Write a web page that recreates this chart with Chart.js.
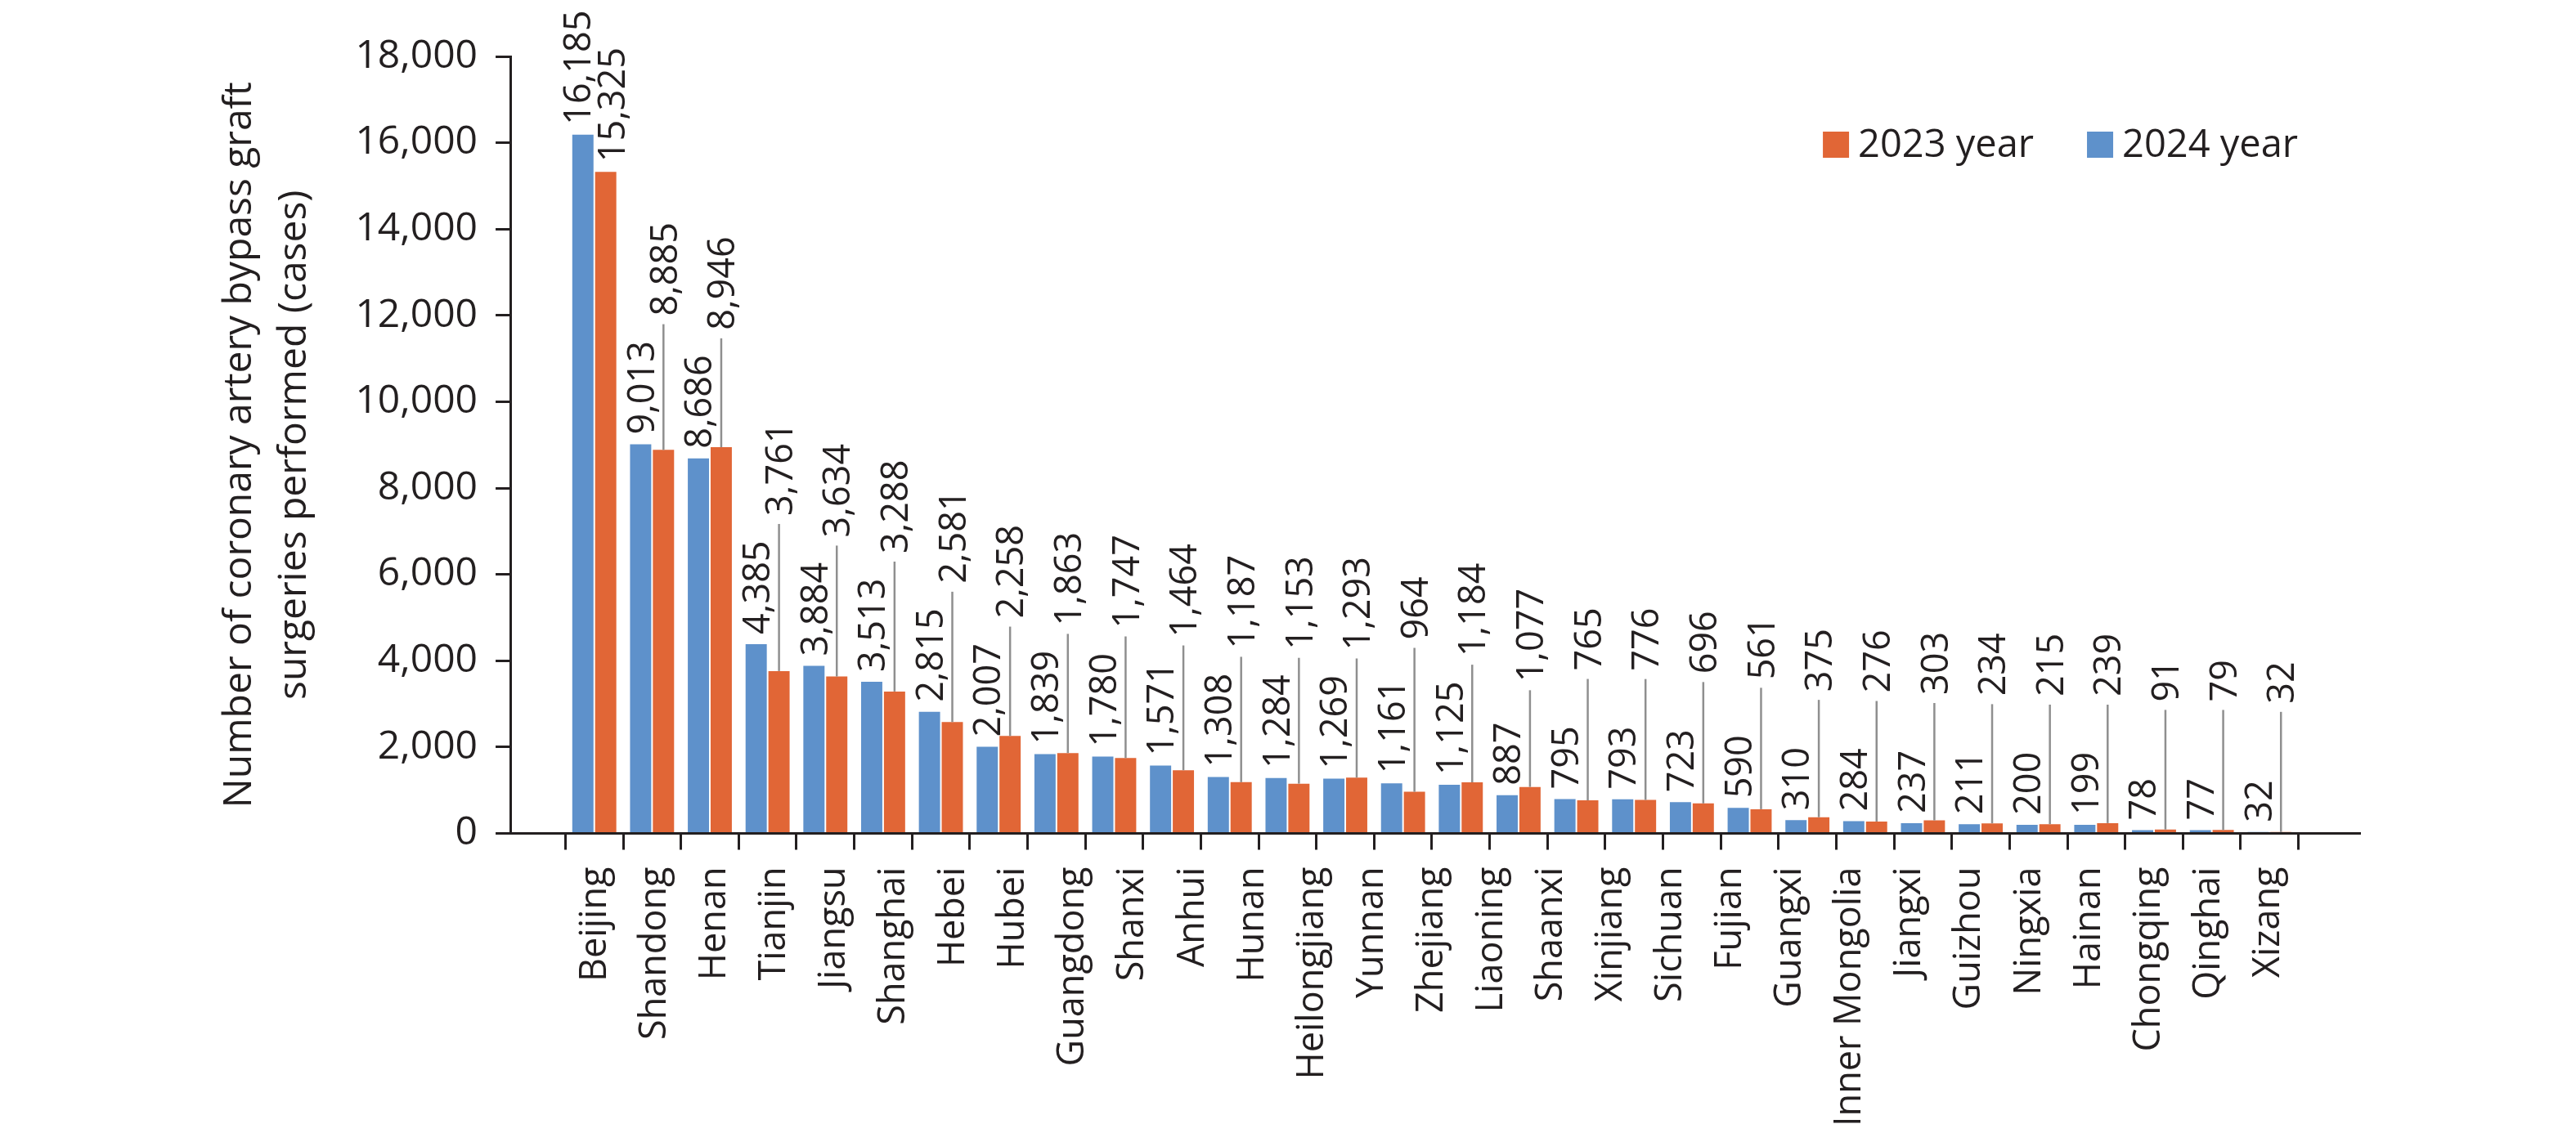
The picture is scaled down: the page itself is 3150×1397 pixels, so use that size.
<!DOCTYPE html>
<html lang="en">
<head>
  <meta charset="UTF-8" />
  <title>Coronary artery bypass graft surgeries by province</title>
  <script src="https://cdn.jsdelivr.net/npm/chart.js@4"></script>
  <style>
    html, body { margin: 0; padding: 0; background: #fff; }
    #wrap { width: 3150px; height: 1397px; }
  </style>
</head>
<body>
  <div id="wrap"><canvas id="chart" width="3150" height="1397"></canvas></div>

  <script>
    // 29 province names, spread evenly under the 30 bar groups (as in the source figure)
    const provinces = [
      'Beijing', 'Shandong', 'Henan', 'Tianjin', 'Jiangsu', 'Shanghai', 'Hebei', 'Hubei',
      'Guangdong', 'Shanxi', 'Anhui', 'Hunan', 'Heilongjiang', 'Yunnan', 'Zhejiang',
      'Liaoning', 'Shaanxi', 'Xinjiang', 'Sichuan', 'Fujian', 'Guangxi', 'Inner Mongolia',
      'Jiangxi', 'Guizhou', 'Ningxia', 'Hainan', 'Chongqing', 'Qinghai', 'Xizang'
    ];
    const values2024 = [
      16185, 9013, 8686, 4385, 3884, 3513, 2815, 2007, 1839, 1780, 1571, 1308, 1284, 1269, 1161,
      1125, 887, 795, 793, 723, 590, 310, 284, 237, 211, 200, 199, 78, 77, 32
    ];
    const values2023 = [
      15325, 8885, 8946, 3761, 3634, 3288, 2581, 2258, 1863, 1747, 1464, 1187, 1153, 1293, 964,
      1184, 1077, 765, 776, 696, 561, 375, 276, 303, 234, 215, 239, 91, 79, 32
    ];
    const yMax = 18000;
    const yStep = 2000;
    const yTitle = ['Number of coronary artery bypass graft', 'surgeries performed (cases)'];

    const INK = '#231f20';
    const BLUE = '#5e91cb';
    const ORANGE = '#e16636';
    const LEADER = '#8f8f8f';
    const FAMILY = '"Open Sans", "Noto Sans", sans-serif';

    Chart.defaults.font.family = FAMILY;
    Chart.defaults.color = INK;

    const fmt = v => v.toLocaleString('en-US');
    const barIndex = values2024.map((_, i) => i);
    // the axis line runs a little past the first and last group
    const xMin = -0.92;
    const xMax = barIndex.length - 1 + 1.02;

    // rotated value labels; 2023 labels are lifted above the 2024 ones with a leader line
    const valueLabels = {
      id: 'valueLabels',
      afterDatasetsDraw(chart) {
        const { ctx } = chart;
        const blue = chart.getDatasetMeta(0).data;
        const orange = chart.getDatasetMeta(1).data;
        const size = 45;
        const capHalf = size * 0.36;
        const gap = 12;
        const lift = 145;

        const drawUp = (text, x, mid) => {
          ctx.save();
          ctx.translate(x, mid);
          ctx.rotate(-Math.PI / 2);
          ctx.textAlign = 'center';
          ctx.textBaseline = 'alphabetic';
          ctx.fillText(text, 0, capHalf);
          ctx.restore();
        };

        ctx.save();
        ctx.font = size + 'px ' + FAMILY;
        ctx.fillStyle = INK;
        blue.forEach((bBar, i) => {
          const oBar = orange[i];
          const bText = fmt(values2024[i]);
          const oText = fmt(values2023[i]);
          const bLen = ctx.measureText(bText).width;
          const oLen = ctx.measureText(oText).width;

          const bMid = bBar.y - gap - bLen / 2;
          let oMid = Math.min(bMid - lift, oBar.y - gap - oLen / 2);
          const lifted = oMid - oLen / 2 > 0;
          let dx = 0;
          if (!lifted) {
            oMid = oBar.y - gap - oLen / 2;
            dx = 7;
          }

          drawUp(bText, bBar.x - dx, bMid);
          drawUp(oText, oBar.x + dx, oMid);

          if (lifted) {
            ctx.save();
            ctx.strokeStyle = LEADER;
            ctx.lineWidth = 2.5;
            ctx.beginPath();
            ctx.moveTo(oBar.x, oMid + oLen / 2 + 10);
            ctx.lineTo(oBar.x, oBar.y);
            ctx.stroke();
            ctx.restore();
          }
        });
        ctx.restore();
      }
    };

    // one-row legend sitting inside the top right of the plot, 2023 first
    const insideLegend = {
      id: 'insideLegend',
      afterDraw(chart) {
        const { ctx, chartArea } = chart;
        const items = Chart.defaults.plugins.legend.labels.generateLabels(chart).reverse();
        const box = 32;
        const textGap = 11;
        const itemGap = 65;
        const right = chartArea.right - 75;
        const midY = chartArea.top + 108;

        ctx.save();
        ctx.font = '47px ' + FAMILY;
        ctx.textBaseline = 'middle';
        ctx.textAlign = 'left';
        const widths = items.map(it => box + textGap + ctx.measureText(it.text).width);
        let x = right - widths.reduce((a, b) => a + b, 0) - itemGap * (items.length - 1);
        items.forEach((it, k) => {
          ctx.fillStyle = it.fillStyle;
          ctx.fillRect(x, midY - box / 2, box, box);
          ctx.fillStyle = INK;
          ctx.fillText(it.text, x + box + textGap, midY + 2);
          x += widths[k] + itemGap;
        });
        ctx.restore();
      }
    };

    const ctx = document.getElementById('chart').getContext('2d');

    const chart = new Chart(ctx, {
      type: 'bar',
      data: {
        labels: barIndex,
        datasets: [
          {
            label: '2024 year',
            data: values2024,
            backgroundColor: BLUE,
            borderWidth: 0,
            categoryPercentage: 0.79,
            barPercentage: 0.93
          },
          {
            label: '2023 year',
            data: values2023,
            backgroundColor: ORANGE,
            borderWidth: 0,
            categoryPercentage: 0.79,
            barPercentage: 0.93
          }
        ]
      },
      options: {
        responsive: false,
        animation: false,
        devicePixelRatio: 1,
        layout: { padding: { left: 250, top: 69, right: 265, bottom: 6 } },
        plugins: {
          tooltip: { enabled: false },
          legend: { display: false }
        },
        scales: {
          x: {
            type: 'linear',
            position: 'bottom',
            weight: 0,
            min: xMin,
            max: xMax,
            afterBuildTicks: s => { s.ticks = barIndex.map(v => ({ value: v })); },
            ticks: { display: false },
            grid: { drawOnChartArea: false, drawTicks: true, tickLength: 20, color: INK, lineWidth: 3 },
            border: { display: true, color: INK, width: 3 }
          },
          names: {
            type: 'linear',
            position: 'bottom',
            weight: 1,
            min: xMin,
            max: xMax,
            afterBuildTicks: s => {
              const step = (barIndex.length - 1) / (provinces.length - 1);
              s.ticks = provinces.map((_, k) => ({ value: k * step }));
            },
            ticks: {
              autoSkip: false,
              minRotation: 90,
              maxRotation: 90,
              padding: 13,
              font: { size: 45 },
              color: INK,
              callback: (v, i) => provinces[i]
            },
            grid: { display: false },
            border: { display: false }
          },
          y: {
            min: 0,
            max: yMax,
            ticks: {
              stepSize: yStep,
              padding: 22,
              font: { size: 48 },
              color: INK,
              callback: v => fmt(v)
            },
            grid: { drawOnChartArea: false, tickLength: 18, color: INK, lineWidth: 3 },
            border: { color: INK, width: 3 },
            title: {
              display: true,
              text: yTitle,
              font: { size: 48, lineHeight: 1.4 },
              color: INK,
              padding: { top: 10, bottom: 18 }
            }
          }
        }
      },
      plugins: [valueLabels, insideLegend]
    });
  </script>
</body>
</html>
